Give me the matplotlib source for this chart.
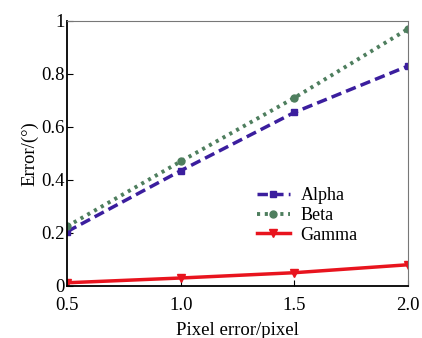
import numpy as np
import matplotlib.pyplot as plt

plt.rcParams['font.family'] = ['Liberation Serif', 'DejaVu Serif']

pixel_error = [0.5, 1.0, 1.5, 2.0]
alpha = [0.205, 0.435, 0.655, 0.83]
beta = [0.225, 0.47, 0.71, 0.97]
gamma = [0.012, 0.03, 0.05, 0.08]

fig = plt.figure(figsize=(4.22, 3.38), dpi=100)
ax = fig.add_axes([0.159, 0.154, 0.808, 0.784])

ax.plot(pixel_error, alpha, color='#3b1e9e', linestyle=(0, (3, 1.5)), linewidth=2.5,
        marker='s', markersize=5, label='Alpha')
ax.plot(pixel_error, beta, color='#4e7e5e', linestyle=(0, (0.8, 1.2)), linewidth=2.8,
        marker='o', markersize=5, label='Beta')
ax.plot(pixel_error, gamma, color='#e8141e', linestyle='-', linewidth=2.5,
        marker='v', markersize=6, label='Gamma')

ax.set_xlim(0.5, 2.0)
ax.set_ylim(0, 1)
ax.set_xticks([0.5, 1.0, 1.5, 2.0])
ax.set_xticklabels(['0.5', '1.0', '1.5', '2.0'])
ax.set_yticks([0, 0.2, 0.4, 0.6, 0.8, 1.0])
ax.set_yticklabels(['0', '0.2', '0.4', '0.6', '0.8', '1'])
ax.tick_params(direction='in', labelsize=13.5, length=4, pad=2)
ax.tick_params(axis='x', pad=8)

ax.spines['top'].set_color('#777777')
ax.spines['right'].set_color('#777777')
for s in ['left', 'bottom']:
    ax.spines[s].set_linewidth(1.3)

ax.set_xlabel('Pixel error/pixel', fontsize=13.5, labelpad=6)
ax.set_ylabel('Error/(°)', fontsize=13.5, labelpad=2)

ax.legend(loc='upper left', bbox_to_anchor=(0.52, 0.42), frameon=False, fontsize=13,
          handlelength=1.8, handletextpad=0.6, labelspacing=0.15, borderpad=0.2)

fig.savefig('out.png', dpi=100)
